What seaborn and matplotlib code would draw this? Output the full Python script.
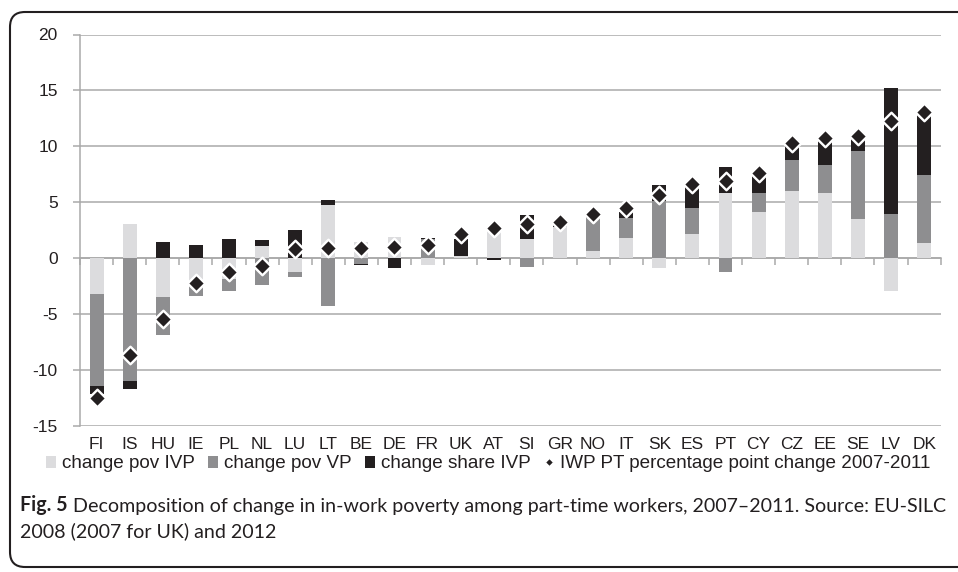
import numpy as np
import pandas as pd
import matplotlib
matplotlib.use('Agg')
import matplotlib.pyplot as plt
import seaborn as sns
from matplotlib import font_manager
from matplotlib.lines import Line2D
from matplotlib.patches import Patch, FancyBboxPatch
from matplotlib.transforms import IdentityTransform


# ── Data ─────────────────────────────────────────────────────────────────────
COUNTRIES = ['FI', 'IS', 'HU', 'IE', 'PL', 'NL', 'LU', 'LT', 'BE', 'DE', 'FR', 'UK', 'AT',
             'SI', 'GR', 'NO', 'IT', 'SK', 'ES', 'PT', 'CY', 'CZ', 'EE', 'SE', 'LV', 'DK']

POV_IVP   = [-3.2, 3.0, -3.5, -2.5, -1.9, 1.1, -1.25, 4.7, 1.4, 1.85, -0.65, 0.15, 2.4,
             1.65, 2.8, 0.6, 1.75, -0.9, 2.1, 5.85, 4.1, 6.0, 5.85, 3.5, -3.0, 1.35]
POV_VP    = [-8.3, -11.05, -3.4, -0.9, -1.1, -2.4, -0.5, -4.3, -0.5, 0.0, 1.65, 0.0, 0.0,
             -0.85, 0.0, 3.0, 1.85, 5.1, 2.35, -1.3, 1.75, 2.75, 2.45, 6.05, 3.9, 6.1]
SHARE_IVP = [-0.65, -0.65, 1.4, 1.2, 1.65, 0.5, 2.5, 0.45, -0.1, -0.9, 0.15, 1.5, -0.2,
             2.15, 0.3, 0.35, 0.5, 1.45, 2.2, 2.3, 1.45, 1.25, 2.15, 1.3, 11.35, 5.55]
IWP_PT    = [-12.5, -8.7, -5.5, -2.25, -1.3, -0.75, 0.8, 0.85, 0.9, 0.95, 1.15, 2.1, 2.7,
             3.0, 3.2, 3.95, 4.45, 5.6, 6.6, 6.9, 7.6, 10.3, 10.75, 10.95, 12.25, 13.1]

Y_TICKS = [-15, -10, -5, 0, 5, 10, 15, 20]

SERIES_LABELS = ['change pov IVP', 'change pov VP', 'change share IVP']
POINT_LABEL   = 'IWP PT percentage point change 2007-2011'
CAPTION_BOLD  = 'Fig. 5'
CAPTION_LINE1 = ('Decomposition of change in in-work poverty among part-time workers, '
                 '2007\u20132011. Source: EU-SILC')
CAPTION_LINE2 = '2008 (2007 for UK) and 2012'


# ── Style ────────────────────────────────────────────────────────────────────
LIGHT, MID, DARK = '#dcdcde', '#8e8e90', '#231f20'
GRID = '#a9a9a9'
W, H = 958, 572

sns.set_theme(style='white')
installed = {f.name for f in font_manager.fontManager.ttflist}
BASE_FONT = 'Liberation Sans' if 'Liberation Sans' in installed else 'DejaVu Sans'
CAPTION_FONT = next((f for f in ['Liberation Sans Narrow', 'Lato'] if f in installed), BASE_FONT)
plt.rcParams['font.family'] = [BASE_FONT, 'DejaVu Sans']
plt.rcParams['axes.unicode_minus'] = False


# ── Figure ───────────────────────────────────────────────────────────────────
df = pd.DataFrame({'country': COUNTRIES, 'ivp': POV_IVP, 'vp': POV_VP,
                   'share': SHARE_IVP, 'iwp': IWP_PT})

fig = plt.figure(figsize=(W / 100, H / 100), dpi=100)
ax = fig.add_axes([80 / W, 1 - 425.5 / H, (940.7 - 80) / W, (425.5 - 34.5) / H])

# Excel-style stacking: positives pile up from 0, negatives pile down from 0
pos = np.zeros(len(df))
neg = np.zeros(len(df))
for col, color in zip(['ivp', 'vp', 'share'], [LIGHT, MID, DARK]):
    vals = df[col].to_numpy()
    bottom = np.where(vals >= 0, pos, neg)
    sns.barplot(data=df, x='country', y=col, bottom=bottom, color=color, saturation=1,
                width=0.42, linewidth=0, errorbar=None, ax=ax)
    pos += np.clip(vals, 0, None)
    neg += np.clip(vals, None, 0)

sns.scatterplot(data=df, x='country', y='iwp', marker='D', s=80, color=DARK,
                edgecolor='white', linewidth=1.7, zorder=5, legend=False, ax=ax)

ax.set_xlim(-0.5, len(COUNTRIES) - 0.5)
ax.set_ylim(Y_TICKS[0], Y_TICKS[-1])
ax.set_yticks(Y_TICKS)
ax.yaxis.grid(True, color=GRID, linewidth=1.1)
ax.set_axisbelow(True)
for side in ['top', 'right', 'bottom']:
    ax.spines[side].set_visible(False)
ax.spines['left'].set_color(GRID)
ax.spines['left'].set_linewidth(1.1)
ax.tick_params(axis='y', left=True, length=5, width=1.1, color=GRID, pad=11,
               labelsize=12.5, labelcolor=DARK)
ax.tick_params(axis='x', bottom=False, length=0, pad=8, labelsize=12.5, labelcolor=DARK)
ax.set_xlabel('')
ax.set_ylabel('')

# category axis line at y = 0 with tick marks between the bars
zero_axis = ax.secondary_xaxis(-Y_TICKS[0] / (Y_TICKS[-1] - Y_TICKS[0]))
zero_axis.set_xticks(np.arange(len(COUNTRIES) + 1) - 0.5)
zero_axis.tick_params(axis='x', length=5, width=1.1, color=GRID, direction='out',
                      labelbottom=False, labeltop=False)
zero_axis.spines['bottom'].set_color(GRID)
zero_axis.spines['bottom'].set_linewidth(1.1)

# ── Legend ───────────────────────────────────────────────────────────────────
handles = [Patch(facecolor=c, edgecolor='none', label=l)
           for c, l in zip([LIGHT, MID, DARK], SERIES_LABELS)]
handles.append(Line2D([], [], marker='D', linestyle='none', markersize=4.5,
                      markerfacecolor=DARK, markeredgecolor='white', markeredgewidth=0.8,
                      label=POINT_LABEL))
fig.legend(handles=handles, loc='center', bbox_to_anchor=(488 / W, 1 - 464 / H), ncol=4,
           frameon=False, fontsize=13.6, handlelength=0.55, handleheight=0.55,
           handletextpad=0.3, columnspacing=0.7, labelcolor=DARK)

# ── Caption ──────────────────────────────────────────────────────────────────
cap_size = 13
t_bold = fig.text(20 / W, 1 - 505 / H, CAPTION_BOLD, fontsize=cap_size, fontweight='bold',
                  family=CAPTION_FONT, color=DARK, va='center')
t_rest = ax.annotate(CAPTION_LINE1, xy=(1, 0), xycoords=t_bold, xytext=(4, 0),
                     textcoords='offset points', va='bottom', fontsize=cap_size,
                     family=CAPTION_FONT, color=DARK, annotation_clip=False)
t_line2 = fig.text(20 / W, 1 - 531 / H, CAPTION_LINE2, fontsize=cap_size,
                   family=CAPTION_FONT, color=DARK, va='center')

# stretch the caption so its first line spans the same width as the reference
fig.canvas.draw()
renderer = fig.canvas.get_renderer()
span = t_rest.get_window_extent(renderer).x1 - t_bold.get_window_extent(renderer).x0
cap_size *= (942 - 20) / span
for t in (t_bold, t_rest, t_line2):
    t.set_fontsize(cap_size)

# rounded frame around the whole figure
frame = FancyBboxPatch((10, 5), 1000, 555, boxstyle='round,pad=0,rounding_size=15',
                       transform=IdentityTransform(), facecolor='none', edgecolor=DARK,
                       linewidth=1.5)
fig.patches.append(frame)

fig.savefig('out.png', dpi=100)
